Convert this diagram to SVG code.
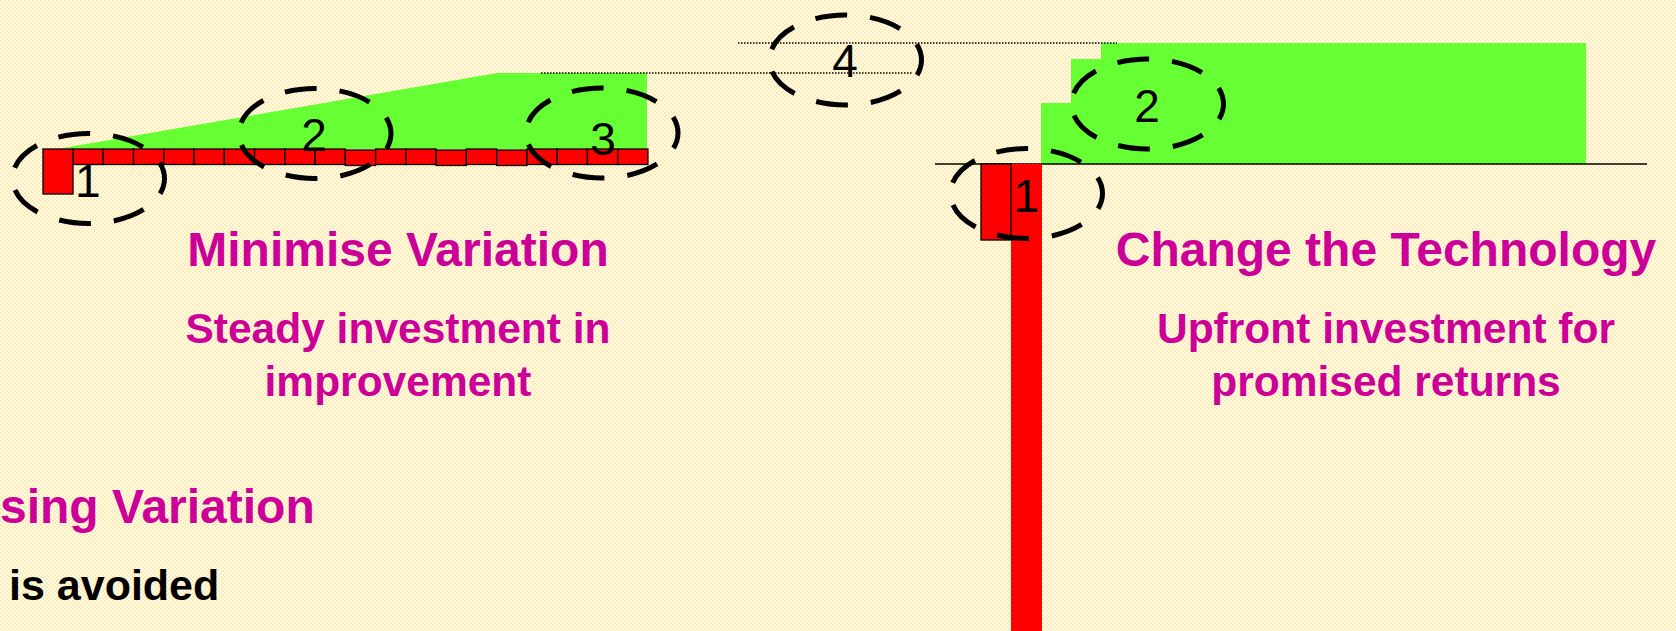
<svg xmlns="http://www.w3.org/2000/svg" width="1676" height="631" viewBox="0 0 1676 631">
<defs>
<pattern id="bgdots" width="4" height="4" patternUnits="userSpaceOnUse">
<rect width="4" height="4" fill="#FFFBEA"/>
<circle cx="1" cy="1" r="0.9" fill="#FFE49A"/>
<circle cx="3" cy="3" r="0.9" fill="#FFE49A"/>
</pattern>
<style>
.green{fill:#66FF33;stroke:none}
.red{fill:#FF0000;stroke:none}
.redo{fill:#FF0000;stroke:#000;stroke-width:1.3}
.ring{fill:none;stroke:#000;stroke-width:5;stroke-dasharray:32 23;stroke-dashoffset:16}
.dot{fill:none;stroke:#000;stroke-width:1.5;stroke-dasharray:1.5 1.5}
.digit{font-family:"Liberation Sans",Arial,sans-serif;font-size:46px;fill:#000}
.head{font-family:"Liberation Sans",Arial,sans-serif;font-weight:bold;font-size:48px;fill:#CC0099}
.sub{font-family:"Liberation Sans",Arial,sans-serif;font-weight:bold;font-size:42.5px;fill:#CC0099}
.mid{text-anchor:middle}
.blk{font-family:"Liberation Sans",Arial,sans-serif;font-weight:bold;font-size:43px;fill:#000}
</style>
</defs>
<rect width="1676" height="631" fill="url(#bgdots)"/>

<g id="left-chart">
<polygon class="green" points="60,148.5 497,73 647,73 647,149"/>
<g id="left-strip">
<rect class="redo" x="73" y="149" width="30.26" height="15.5"/>
<rect class="redo" x="103.26" y="149" width="30.26" height="15.5"/>
<rect class="redo" x="133.52" y="149" width="30.26" height="15.5"/>
<rect class="redo" x="163.78" y="149" width="30.26" height="15.5"/>
<rect class="redo" x="194.04" y="149" width="30.26" height="15.5"/>
<rect class="redo" x="224.3" y="149" width="30.26" height="15.5"/>
<rect class="redo" x="254.56" y="149" width="30.26" height="15.5"/>
<rect class="redo" x="284.82" y="149" width="30.26" height="15.5"/>
<rect class="redo" x="315.08" y="149" width="30.26" height="15.5"/>
<rect class="redo" x="345.34" y="150" width="30.26" height="15.5"/>
<rect class="redo" x="375.6" y="149" width="30.26" height="15.5"/>
<rect class="redo" x="405.86" y="149" width="30.26" height="15.5"/>
<rect class="redo" x="436.12" y="150" width="30.26" height="15.5"/>
<rect class="redo" x="466.38" y="149" width="30.26" height="15.5"/>
<rect class="redo" x="496.64" y="150" width="30.26" height="15.5"/>
<rect class="redo" x="526.9" y="149" width="30.26" height="15.5"/>
<rect class="redo" x="557.16" y="149" width="30.26" height="15.5"/>
<rect class="redo" x="587.42" y="149" width="30.26" height="15.5"/>
<rect class="redo" x="617.68" y="149" width="30.26" height="15.5"/>
</g>
<rect id="left-initial-bar" class="redo" x="43" y="149" width="30" height="45"/>
</g>

<g id="right-chart">
<polygon class="green" points="1041,164 1041,103 1071,103 1071,59 1101,59 1101,43 1586,43 1586,164"/>
<line x1="935" y1="164" x2="1647" y2="164" stroke="#000" stroke-width="1.5"/>
<rect id="right-tall-bar" class="red" x="1011" y="164" width="31" height="467"/>
<rect id="right-small-bar" class="redo" x="981" y="164" width="30" height="76"/>
</g>

<g id="connectors">
<line class="dot" x1="541" y1="73" x2="913" y2="73"/>
<line class="dot" x1="738" y1="43" x2="1117" y2="43"/>
</g>

<g id="marker-L1"><text class="digit" x="75" y="197">1</text><ellipse class="ring" cx="88.5" cy="178.5" rx="76" ry="45"/></g>
<g id="marker-L2"><text class="digit mid" x="314" y="151">2</text><ellipse class="ring" cx="315" cy="133.5" rx="76" ry="45"/></g>
<g id="marker-L3"><text class="digit mid" x="603" y="155">3</text><ellipse class="ring" cx="602" cy="133" rx="76" ry="45"/></g>
<g id="marker-4"><text class="digit mid" x="845" y="77">4</text><ellipse class="ring" cx="845.5" cy="60" rx="76" ry="45"/></g>
<g id="marker-R1"><text class="digit" x="1013.5" y="212">1</text><ellipse class="ring" cx="1026.5" cy="193.5" rx="76" ry="45"/></g>
<g id="marker-R2"><text class="digit mid" x="1147" y="122">2</text><ellipse class="ring" cx="1147.5" cy="104" rx="76" ry="45"/></g>

<g id="label-minimise">
<text class="head mid" x="398" y="266">Minimise Variation</text>
<text class="sub mid" x="398" y="343">Steady investment in</text>
<text class="sub mid" x="398" y="396">improvement</text>
</g>
<g id="label-change">
<text class="head mid" x="1386" y="266">Change the Technology</text>
<text class="sub mid" x="1386" y="343">Upfront investment for</text>
<text class="sub mid" x="1386" y="396">promised returns</text>
</g>
<g id="label-bottom">
<text class="head" x="0" y="523">sing Variation</text>
<text class="blk" x="9" y="600">is avoided</text>
</g>
</svg>
